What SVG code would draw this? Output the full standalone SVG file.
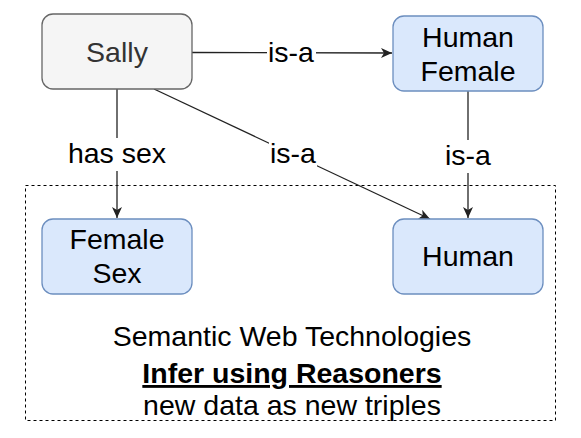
<svg xmlns="http://www.w3.org/2000/svg" width="581" height="438" viewBox="0 0 581 438">
<style>
text{font-family:"Liberation Sans",Arial,sans-serif;font-size:28.5px;text-anchor:middle;fill:#000}
.gray{fill:#f5f5f5;stroke:#666;stroke-width:1.3}
.blue{fill:#dae8fc;stroke:#6c8ebf;stroke-width:1.3}
.edge{stroke:#222;stroke-width:1.3;fill:none}
.lbg{fill:#fff}
</style>
<defs>
<marker id="arr" markerUnits="userSpaceOnUse" markerWidth="12" markerHeight="10" refX="11" refY="5" orient="auto">
<path d="M0,0 L11,5 L0,10 L3,5 z" fill="#222"/>
</marker>
</defs>
<rect x="25.5" y="185.5" width="530" height="235" fill="none" stroke="#000" stroke-width="1" stroke-dasharray="3 3"/>
<g id="connectors">
<path class="edge" d="M192,52.5 L392,53" marker-end="url(#arr)"/>
<path class="edge" d="M117,89 L117,218" marker-end="url(#arr)"/>
<path class="edge" d="M154,89 L430,219" marker-end="url(#arr)"/>
<path class="edge" d="M468,91 L468,218" marker-end="url(#arr)"/>
<rect class="lbg" x="267" y="38" width="49" height="31"/>
<text x="291" y="62">is-a</text>
<rect class="lbg" x="64" y="138" width="106" height="33"/>
<text x="117" y="163">has sex</text>
<rect class="lbg" x="269" y="138" width="48" height="33"/>
<text x="293" y="163">is-a</text>
<rect class="lbg" x="444" y="140" width="48" height="33"/>
<text x="468" y="165">is-a</text>
</g>
<g id="sally">
<rect class="gray" x="42" y="14" width="150" height="75" rx="11"/>
<text x="117" y="62" style="fill:#333">Sally</text>
</g>
<g id="human-female">
<rect class="blue" x="393" y="16" width="150" height="75" rx="11"/>
<text x="468" y="47">Human</text>
<text x="468" y="81">Female</text>
</g>
<g id="female-sex">
<rect class="blue" x="42" y="219" width="150" height="75" rx="11"/>
<text x="117" y="249">Female</text>
<text x="117" y="283">Sex</text>
</g>
<g id="human">
<rect class="blue" x="393" y="219" width="150" height="75" rx="11"/>
<text x="468" y="266">Human</text>
</g>
<g id="caption">
<text x="292" y="346">Semantic Web Technologies</text>
<text x="292" y="383" style="font-weight:bold;text-decoration:underline">Infer using Reasoners</text>
<text x="292" y="415">new data as new triples</text>
</g>
</svg>
